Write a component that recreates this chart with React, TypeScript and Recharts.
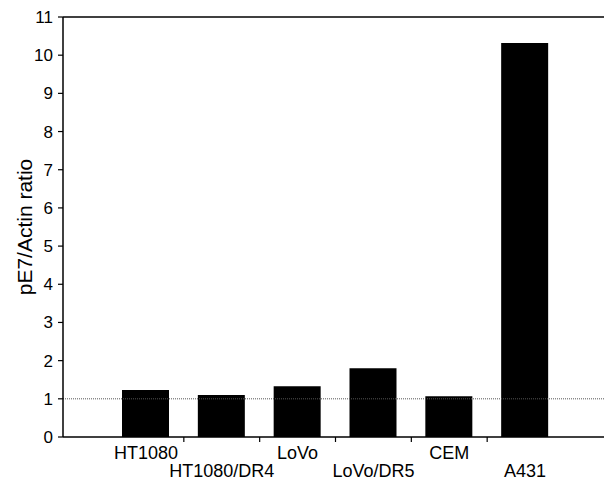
import { BarChart, Bar, XAxis, YAxis, ReferenceLine } from "recharts";

const cellLines = ["HT1080", "HT1080/DR4", "LoVo", "LoVo/DR5", "CEM", "A431"];
const ratios = [1.23, 1.1, 1.33, 1.8, 1.07, 10.32];
const yTicks = [0, 1, 2, 3, 4, 5, 6, 7, 8, 9, 10, 11];

const data = cellLines.map((name, i) => ({ name, ratio: ratios[i] }));

const W = 604;
const H = 481;
const margin = { top: 17, right: 0, bottom: 0, left: 0 };
const xAxisHeight = 44;
const yAxisWidth = 63;
const pad = { left: 45, right: 41 };
const band = (W - yAxisWidth - pad.left - pad.right) / cellLines.length;
const font = "'Liberation Sans', Arial, sans-serif";

function CategoryTick(props: any) {
  const { x, y, payload, index } = props;
  const row = index % 2 === 0 ? 22 : 40;
  return (
    <g>
      {index < cellLines.length - 1 && (
        <line x1={x + band / 2} x2={x + band / 2} y1={y} y2={y + 5} stroke="#000" strokeWidth={1.2} />
      )}
      <text x={x} y={y + row} textAnchor="middle" fontSize={18} fontFamily={font} fill="#000">
        {payload.value}
      </text>
    </g>
  );
}

function YLabel(props: any) {
  const { viewBox } = props;
  const cy = viewBox.y + viewBox.height / 2;
  return (
    <text
      x={24}
      y={cy}
      transform={`rotate(-90, 24, ${cy})`}
      textAnchor="middle"
      dominantBaseline="central"
      fontSize={21}
      fontFamily={font}
      fill="#000"
    >
      pE7/Actin ratio
    </text>
  );
}

export default function App() {
  return (
    <div style={{ position: "absolute", left: 0, top: 0, width: W, height: H, background: "#fff" }}>
      <BarChart width={W} height={H} data={data} margin={margin} barSize={47}>
        <XAxis
          dataKey="name"
          height={xAxisHeight}
          interval={0}
          padding={pad}
          axisLine={{ stroke: "#000", strokeWidth: 1.5 }}
          tickLine={false}
          tickSize={0}
          tickMargin={0}
          tick={<CategoryTick />}
        />
        <YAxis
          width={yAxisWidth}
          domain={[0, 11]}
          ticks={yTicks}
          interval={0}
          axisLine={{ stroke: "#000", strokeWidth: 1.5 }}
          tickLine={{ stroke: "#000", strokeWidth: 1.2 }}
          tickSize={5}
          tickMargin={5}
          tick={{ fontSize: 17, fontFamily: font, fill: "#000" }}
          label={<YLabel />}
        />
        <ReferenceLine y={11} stroke="#000" strokeWidth={1.5} />
        <ReferenceLine y={1} stroke="#555" strokeWidth={1} strokeDasharray="1 1" />
        <Bar dataKey="ratio" fill="#000" isAnimationActive={false} />
      </BarChart>
    </div>
  );
}
